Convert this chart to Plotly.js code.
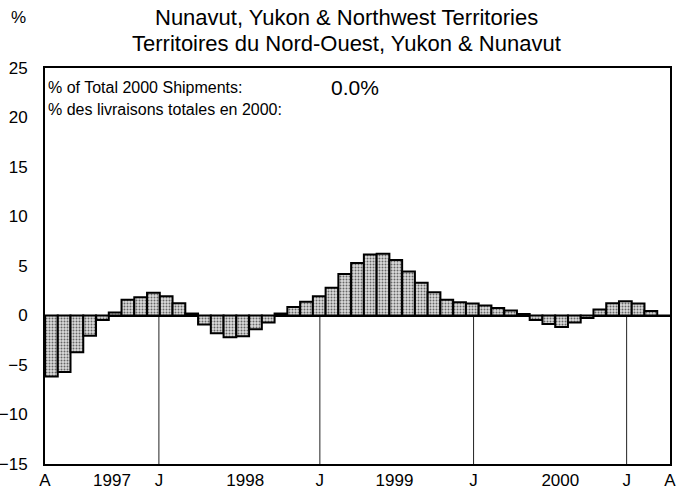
<!DOCTYPE html>
<html>
<head>
<meta charset="utf-8">
<script src="https://cdn.plot.ly/plotly-3.0.1.min.js"></script>
<style>
  body { margin: 0; background: #fff; }
  #chart { width: 679px; height: 492px; }
</style>
</head>
<body>
<div id="chart"></div>
<script>
// monthly change, April 1997 .. April 2001 (49 months)
var changeValues = [
    -6.15, -5.7, -3.7, -2.05, -0.45, 0.3, 1.6, 1.85, 2.3, 1.95, 1.25, 0.2,
    -0.9, -1.8, -2.2, -2.1, -1.4, -0.7, 0.2, 0.85, 1.4, 1.95, 2.8, 4.2,
    5.3, 6.15, 6.25, 5.6, 4.45, 3.3, 2.35, 1.6, 1.35, 1.2, 1.0, 0.75,
    0.5, 0.15, -0.45, -0.85, -1.15, -0.7, -0.25, 0.6, 1.25, 1.45, 1.2, 0.45,
    0.0
];
var monthIndex = changeValues.map((v, i) => i + 0.5);

var tickLabels = ['A', '1997', 'J', '1998', 'J', '1999', 'J', '2000', 'J', 'A'];
var tickPos = [0, 5.25, 8.93, 15.7, 21.55, 27.4, 33.6, 40.4, 45.6, 49];
var januaryPos = [8.93, 21.55, 33.6, 45.6];

var titleLines = ['Nunavut, Yukon & Northwest Territories', 'Territoires du Nord-Ouest, Yukon & Nunavut'];
var shareLabels = ['% of Total 2000 Shipments:', '% des livraisons totales en 2000:'];
var shareValue = '0.0%';

var fontFamily = 'Liberation Sans, Arial, sans-serif';

var barTrace = {
    x: monthIndex,
    y: changeValues,
    type: 'bar',
    width: 1,
    marker: {
        color: '#bdbdbd',
        line: { color: '#000', width: 2 },
        pattern: { shape: '.', fgcolor: '#666', bgcolor: '#dcdcdc', size: 3, solidity: 0.35 }
    },
    hoverinfo: 'y'
};

// January markers drawn from the bottom of the frame up to zero
var janLines = januaryPos.map(p => ({
    type: 'line', xref: 'x', yref: 'y',
    x0: p, x1: p, y0: -15, y1: 0,
    line: { color: '#222', width: 1 },
    layer: 'below'
}));

function note(text, x, y, size, anchor) {
    return {
        text: text, xref: 'paper', yref: 'paper', x: x, y: y,
        xanchor: anchor || 'left', yanchor: 'middle', showarrow: false,
        font: { size: size }
    };
}

var layout = {
    width: 679,
    height: 492,
    margin: { l: 45, r: 9, t: 68, b: 28 },
    paper_bgcolor: '#fff',
    plot_bgcolor: '#fff',
    font: { family: fontFamily, color: '#000', size: 16 },
    showlegend: false,
    bargap: 0,
    xaxis: {
        range: [0, 49],
        tickvals: tickPos,
        ticktext: tickLabels,
        ticks: '',
        ticklabelstandoff: 0,
        showgrid: false,
        zeroline: false,
        showline: true,
        mirror: true,
        linecolor: '#000',
        linewidth: 2,
        tickfont: { size: 17 },
        fixedrange: true
    },
    yaxis: {
        range: [-15, 25],
        tickvals: [-15, -10, -5, 0, 5, 10, 15, 20, 25],
        ticks: 'outside',
        ticklen: 12,
        tickcolor: 'rgba(0,0,0,0)',
        showgrid: false,
        zeroline: true,
        zerolinecolor: '#000',
        zerolinewidth: 2,
        showline: true,
        mirror: true,
        linecolor: '#000',
        linewidth: 2,
        tickfont: { size: 17 },
        fixedrange: true
    },
    shapes: janLines,
    annotations: [
        note(titleLines[0], 0.483, 1.127, 22, 'center'),
        note(titleLines[1], 0.483, 1.062, 22, 'center'),
        note('%', -0.057, 1.127, 17),
        note(shareLabels[0], 0.002, 0.95, 16),
        note(shareValue, 0.455, 0.952, 21),
        note(shareLabels[1], 0.002, 0.895, 16)
    ]
};

Plotly.newPlot('chart', [barTrace], layout, { displayModeBar: false, staticPlot: true });
</script>
</body>
</html>
